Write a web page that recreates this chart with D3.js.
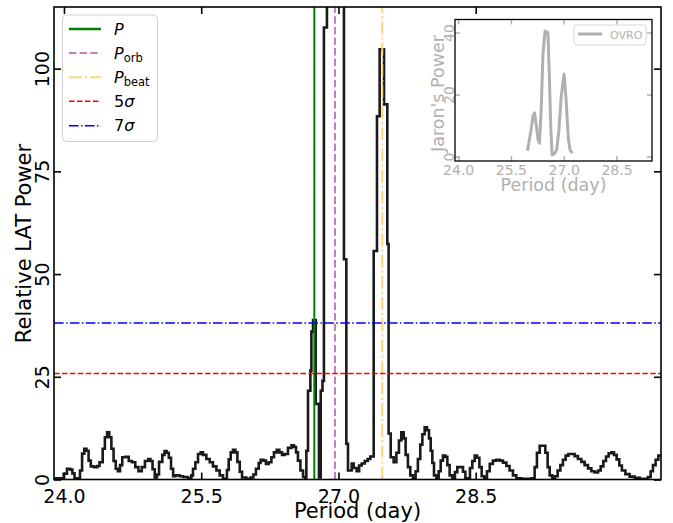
<!DOCTYPE html>
<html>
<head>
<meta charset="utf-8">
<script src="https://cdn.jsdelivr.net/npm/d3@7"></script>
<style>
body { margin: 0; background: #fff; }
svg { display: block; font-family: "DejaVu Sans", sans-serif; }
</style>
</head>
<body>
<div id="chart"></div>
<script>

// LAT periodogram (step edges: period, relative power)
var latPeriod = [23.890,23.997,24.033,24.068,24.092,24.115,24.175,24.198,24.222,24.246,24.269,24.293,24.329,24.364,24.388,24.423,24.447,24.471,24.495,24.518,24.542,24.566,24.589,24.613,24.637,24.672,24.708,24.743,24.779,24.814,24.850,24.885,24.921,24.945,24.968,24.992,25.016,25.039,25.075,25.099,25.122,25.146,25.170,25.193,25.217,25.265,25.301,25.356,25.392,25.410,25.436,25.465,25.494,25.519,25.556,25.593,25.628,25.666,25.702,25.738,25.781,25.800,25.822,25.847,25.873,25.895,25.921,25.946,25.993,26.040,26.070,26.098,26.128,26.149,26.179,26.207,26.237,26.267,26.295,26.325,26.354,26.383,26.412,26.448,26.486,26.514,26.536,26.557,26.584,26.613,26.636,26.649,26.667,26.693,26.704,26.722,26.751,26.787,26.806,26.825,26.841,26.874,27.060,27.086,27.104,27.145,27.166,27.199,27.226,27.254,27.287,27.319,27.348,27.385,27.421,27.450,27.498,27.534,27.548,27.571,27.603,27.633,27.661,27.687,27.713,27.734,27.759,27.785,27.814,27.843,27.868,27.894,27.917,27.942,27.968,27.989,28.008,28.026,28.044,28.070,28.095,28.117,28.142,28.168,28.190,28.215,28.245,28.273,28.299,28.335,28.361,28.387,28.437,28.463,28.489,28.514,28.540,28.565,28.594,28.623,28.653,28.688,28.726,28.761,28.798,28.835,28.870,28.907,28.944,28.998,29.109,29.144,29.169,29.199,29.261,29.286,29.308,29.337,29.366,29.395,29.425,29.453,29.483,29.513,29.581,29.617,29.655,29.690,29.727,29.764,29.799,29.836,29.866,29.895,29.924,29.953,29.983,30.011,30.040,30.069,30.098,30.136,30.182,30.238,30.292,30.382,30.412,30.437,30.466,30.496,30.525];
var latPower = [0.3,1.4,2.6,2.4,1.5,0.3,2.2,6.3,7.5,7.0,4.6,3.2,3.0,3.3,4.2,7.5,10.3,11.5,10.3,7.5,4.5,2.6,2.0,3.5,5.4,5.5,4.5,4.2,3.0,2.0,3.0,4.5,5.0,4.5,2.5,0.5,1.2,4.3,6.0,6.9,6.5,5.3,2.6,0.8,1.0,0.8,0.6,0.3,1.0,2.6,4.2,6.2,6.6,6.0,5.0,4.2,3.2,2.2,1.0,0.2,2.3,4.9,6.6,7.2,6.6,4.3,1.9,0.5,0.2,0.5,1.2,2.6,4.0,4.8,4.6,3.8,4.2,5.4,6.6,7.2,6.6,6.0,6.2,7.7,8.3,7.9,6.6,4.6,2.2,0.6,0.4,7.0,21.6,26.5,36.0,38.8,18.4,0.5,21.6,24.0,110,180,53.6,8.7,2.2,3.9,2.8,2.0,3.4,3.9,4.5,5.0,5.6,55.6,88.4,104.7,91.3,57.3,11.2,5.4,4.2,6.5,9.5,11.5,10.0,6.0,3.0,1.0,0.2,2.0,5.0,8.5,11.0,12.7,12.0,10.0,7.0,4.0,1.0,0.2,2.0,4.6,5.8,5.5,3.5,1.0,0.2,1.8,3.0,3.0,1.9,0.3,2.8,4.5,5.8,5.3,3.0,0.8,0.2,2.0,3.8,4.6,4.8,4.6,4.1,3.3,2.2,1.0,0.3,0.2,0.3,3.0,6.5,8.2,6.5,3.0,1.0,0.2,0.8,2.2,3.5,4.8,5.8,6.2,5.7,5.0,4.3,3.5,2.7,2.0,1.7,2.2,3.2,4.5,5.6,6.4,6.6,6.0,4.9,3.4,2.2,1.3,0.7,0.4,0.2,0.6,2.0,3.5,4.8,5.8,5.8];

// marker periods: P, Porb, Pbeat
var markerPeriods = [26.736, 26.962, 27.479];
// significance levels: 5 sigma, 7 sigma
var sigmaLevels = [25.8, 38.1];

// OVRO (inset)
var ovroPeriod = [25.97,26.07,26.13,26.17,26.21,26.27,26.31,26.36,26.41,26.47,26.55,26.59,26.63,26.67,26.74,26.80,26.86,26.93,27.01,27.07,27.13,27.18,27.25];
var ovroPower = [1.9,8.5,13.2,14.1,11.0,5.5,4.3,15.0,33.0,40.5,40.0,27.0,10.0,0.5,1.0,2.2,8.0,19.5,26.6,18.0,6.0,2.2,1.1];

var xTicks = [24.0, 25.5, 27.0, 28.5];
var yTicks = [0, 25, 50, 75, 100];
var insetYTicks = [0, 20, 40];

var width = 673, height = 523;
var margin = {top: 7, right: 12, bottom: 43.5, left: 54};

var svg = d3.select("#chart").append("svg")
    .attr("width", width)
    .attr("height", height);

svg.append("rect").attr("width", width).attr("height", height).attr("fill", "#fff");

var x = d3.scaleLinear().domain([23.891, 30.525]).range([margin.left, width - margin.right]);
var y = d3.scaleLinear().domain([0, 115]).range([height - margin.bottom, margin.top]);

svg.append("clipPath").attr("id", "clip")
  .append("rect")
    .attr("x", margin.left).attr("y", margin.top)
    .attr("width", width - margin.left - margin.right)
    .attr("height", height - margin.top - margin.bottom);

// main step curve
var line = d3.line()
    .x(function(i) { return x(latPeriod[i]); })
    .y(function(i) { return y(latPower[i]); })
    .curve(d3.curveStepAfter);

svg.append("path")
    .datum(d3.range(latPeriod.length))
    .attr("clip-path", "url(#clip)")
    .attr("fill", "none")
    .attr("stroke", "#1a1a1a")
    .attr("stroke-width", 2.6)
    .attr("stroke-linejoin", "miter")
    .attr("d", line);

// vertical markers
var markerStyle = [
  {color: "green", dash: null, w: 2},
  {color: "#bf80bf", dash: "7.4,3.2", w: 2},
  {color: "#ffd280", dash: "12.8,3.2,2,3.2", w: 2}
];
svg.selectAll(".vmark")
  .data(markerPeriods)
  .enter().append("line")
    .attr("class", "vmark")
    .attr("x1", function(d) { return x(d); })
    .attr("x2", function(d) { return x(d); })
    .attr("y1", y.range()[0])
    .attr("y2", y.range()[1])
    .attr("stroke", function(d, i) { return markerStyle[i].color; })
    .attr("stroke-width", function(d, i) { return markerStyle[i].w; })
    .attr("stroke-dasharray", function(d, i) { return markerStyle[i].dash; });

// horizontal sigma lines
var sigmaStyle = [
  {color: "red", dash: "5.55,2.4"},
  {color: "blue", dash: "9.6,2.4,1.5,2.4"}
];
svg.selectAll(".hmark")
  .data(sigmaLevels)
  .enter().append("line")
    .attr("class", "hmark")
    .attr("x1", x.range()[0])
    .attr("x2", x.range()[1])
    .attr("y1", function(d) { return y(d); })
    .attr("y2", function(d) { return y(d); })
    .attr("stroke", function(d, i) { return sigmaStyle[i].color; })
    .attr("stroke-width", 1.5)
    .attr("stroke-dasharray", function(d, i) { return sigmaStyle[i].dash; });

// axes (ticks inward, all four sides)
var fs = 19;
var gx = svg.append("g")
    .attr("transform", "translate(0," + y.range()[0] + ")")
    .call(d3.axisBottom(x).tickValues(xTicks).tickFormat(d3.format(".1f")).tickSize(-7).tickPadding(10));
svg.append("g")
    .attr("transform", "translate(0," + y.range()[1] + ")")
    .call(d3.axisTop(x).tickValues(xTicks).tickFormat("").tickSize(-7));
var gy = svg.append("g")
    .attr("transform", "translate(" + x.range()[0] + ",0)")
    .call(d3.axisLeft(y).tickValues(yTicks).tickFormat(d3.format("d")).tickSize(-7));
svg.append("g")
    .attr("transform", "translate(" + x.range()[1] + ",0)")
    .call(d3.axisRight(y).tickValues(yTicks).tickFormat("").tickSize(-7));

svg.selectAll(".tick line").attr("stroke", "#000").attr("stroke-width", 1.6);
svg.selectAll(".domain").remove();
gx.selectAll("text").attr("font-size", fs).attr("font-family", "DejaVu Sans").attr("fill", "#000");
gy.selectAll("text")
    .attr("x", null).attr("dy", null)
    .attr("transform", "translate(-5,0) rotate(-90)")
    .attr("text-anchor", "middle")
    .attr("font-size", fs).attr("font-family", "DejaVu Sans").attr("fill", "#000");

svg.append("rect")
    .attr("x", x.range()[0]).attr("y", y.range()[1])
    .attr("width", x.range()[1] - x.range()[0])
    .attr("height", y.range()[0] - y.range()[1])
    .attr("fill", "none").attr("stroke", "#000").attr("stroke-width", 1.6);

svg.append("text")
    .attr("x", (x.range()[0] + x.range()[1]) / 2)
    .attr("y", 518)
    .attr("text-anchor", "middle")
    .attr("font-size", 21)
    .text("Period (day)");

svg.append("text")
    .attr("transform", "translate(31,243.5) rotate(-90)")
    .attr("text-anchor", "middle")
    .attr("font-size", 21)
    .text("Relative LAT Power");

// legend
var lg = svg.append("g");
lg.append("rect")
    .attr("x", 62.5).attr("y", 15).attr("width", 95).attr("height", 126.5)
    .attr("rx", 4)
    .attr("fill", "#fff").attr("fill-opacity", 0.8)
    .attr("stroke", "#d0d0d0").attr("stroke-width", 1);

var legendStyle = [markerStyle[0], markerStyle[1], markerStyle[2], sigmaStyle[0], sigmaStyle[1]];
var legendW = [2.5, 2, 2, 1.5, 1.5];
var rowY = [29, 53, 77.3, 101.3, 125.7];
legendStyle.forEach(function(s, i) {
  lg.append("line")
    .attr("x1", 69).attr("x2", 101)
    .attr("y1", rowY[i]).attr("y2", rowY[i])
    .attr("stroke", s.color)
    .attr("stroke-width", legendW[i])
    .attr("stroke-dasharray", s.dash);
});

function legendText(i) {
  return lg.append("text")
    .attr("x", 114).attr("y", rowY[i] + 5.5)
    .attr("font-size", 16);
}
var t0 = legendText(0);
t0.append("tspan").attr("font-style", "italic").text("P");
var t1 = legendText(1);
t1.append("tspan").attr("font-style", "italic").text("P");
t1.append("tspan").attr("font-size", 11.5).attr("dy", 3).text("orb");
var t2 = legendText(2);
t2.append("tspan").attr("font-style", "italic").text("P");
t2.append("tspan").attr("font-size", 11.5).attr("dy", 3).text("beat");
var t3 = legendText(3);
t3.append("tspan").text("5");
t3.append("tspan").attr("font-style", "italic").text("σ");
var t4 = legendText(4);
t4.append("tspan").text("7");
t4.append("tspan").attr("font-style", "italic").text("σ");

// inset
var grey = "#b0b0b0";
var xi = d3.scaleLinear().domain([23.91, 29.51]).range([455, 652]);
var yi = d3.scaleLinear().domain([-1.4, 44.2]).range([161, 19.5]);

var inset = svg.append("g");
inset.append("rect")
    .attr("x", 455).attr("y", 19.5).attr("width", 197).attr("height", 141.5)
    .attr("fill", "#fff");

var ovroLine = d3.line()
    .x(function(i) { return xi(ovroPeriod[i]); })
    .y(function(i) { return yi(ovroPower[i]); });

inset.append("path")
    .datum(d3.range(ovroPeriod.length))
    .attr("fill", "none")
    .attr("stroke", grey)
    .attr("stroke-width", 3)
    .attr("stroke-linejoin", "round")
    .attr("d", ovroLine);

var ix = inset.append("g")
    .attr("transform", "translate(0," + yi.range()[0] + ")")
    .call(d3.axisBottom(xi).tickValues(xTicks).tickFormat(d3.format(".1f")).tickSize(-5).tickPadding(4));
inset.append("g")
    .attr("transform", "translate(0," + yi.range()[1] + ")")
    .call(d3.axisTop(xi).tickValues(xTicks).tickFormat("").tickSize(-5));
var iy = inset.append("g")
    .attr("transform", "translate(" + xi.range()[0] + ",0)")
    .call(d3.axisLeft(yi).tickValues(insetYTicks).tickFormat(d3.format("d")).tickSize(-5));
inset.append("g")
    .attr("transform", "translate(" + xi.range()[1] + ",0)")
    .call(d3.axisRight(yi).tickValues(insetYTicks).tickFormat("").tickSize(-5));

inset.selectAll(".domain").remove();
inset.selectAll(".tick line").attr("stroke", grey).attr("stroke-width", 1.5);
ix.selectAll("text").attr("font-size", 14).attr("font-family", "DejaVu Sans").attr("fill", grey);
iy.selectAll("text")
    .attr("x", null).attr("dy", null)
    .attr("transform", "translate(-1,0) rotate(-90)")
    .attr("text-anchor", "middle")
    .attr("font-size", 14).attr("font-family", "DejaVu Sans").attr("fill", grey);

inset.append("rect")
    .attr("x", 455).attr("y", 19.5).attr("width", 197).attr("height", 141.5)
    .attr("fill", "none").attr("stroke", "#000").attr("stroke-width", 1.3);

inset.append("text")
    .attr("x", 553.5).attr("y", 191)
    .attr("text-anchor", "middle")
    .attr("font-size", 17.5).attr("fill", grey)
    .text("Period (day)");
inset.append("text")
    .attr("transform", "translate(444,93.5) rotate(-90)")
    .attr("text-anchor", "middle")
    .attr("font-size", 17.5).attr("fill", grey)
    .text("Jaron's Power");

inset.append("rect")
    .attr("x", 574).attr("y", 25).attr("width", 72).attr("height", 20)
    .attr("rx", 3)
    .attr("fill", "#fff").attr("fill-opacity", 0.8)
    .attr("stroke", "#d8d8d8").attr("stroke-width", 1);
inset.append("line")
    .attr("x1", 578).attr("x2", 602).attr("y1", 34).attr("y2", 34)
    .attr("stroke", grey).attr("stroke-width", 3);
inset.append("text")
    .attr("x", 610).attr("y", 38.5)
    .attr("font-size", 11).attr("fill", grey)
    .text("OVRO");

</script>
</body>
</html>
